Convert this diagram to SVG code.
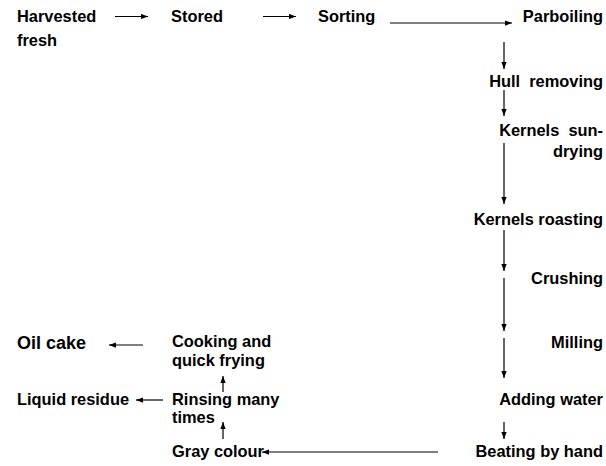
<svg xmlns="http://www.w3.org/2000/svg" width="606" height="466" viewBox="0 0 606 466">
<style>
text{font-family:"Liberation Sans",Arial,sans-serif;font-weight:bold;font-size:16.4px;fill:#000;white-space:pre}
.r{text-anchor:end}
.big{font-size:18px}
line{stroke:#000;stroke-width:1.2;fill:none}
</style>
<defs>
<marker id="ah" viewBox="0 0 8 6" refX="8" refY="3" markerWidth="7" markerHeight="5.5" markerUnits="userSpaceOnUse" orient="auto">
<path d="M0,0 L8,3 L0,6 z" fill="#000"/>
</marker>
</defs>
<rect width="606" height="466" fill="#fff"/>
<g id="harvested"><text x="17" y="22">Harvested</text><text x="17" y="46">fresh</text></g>
<g id="stored"><text x="171" y="22">Stored</text></g>
<g id="sorting"><text x="318" y="22">Sorting</text></g>
<g id="parboiling"><text class="r" x="603" y="22">Parboiling</text></g>
<g id="hull"><text class="r" x="603" y="87">Hull  removing</text></g>
<g id="sundrying"><text class="r" x="603" y="136">Kernels  sun-</text><text class="r" x="603" y="157">drying</text></g>
<g id="roasting"><text class="r" x="603" y="225">Kernels roasting</text></g>
<g id="crushing"><text class="r" x="603" y="284">Crushing</text></g>
<g id="milling"><text class="r" x="603" y="348">Milling</text></g>
<g id="adding"><text class="r" x="603" y="405">Adding water</text></g>
<g id="beating"><text class="r" x="603" y="457">Beating by hand</text></g>
<g id="gray"><text x="172" y="457">Gray colour</text></g>
<g id="rinsing"><text x="172" y="405">Rinsing many</text><text x="172" y="423">times</text></g>
<g id="cooking"><text x="172" y="347">Cooking and</text><text x="172" y="366">quick frying</text></g>
<g id="liquid"><text x="17" y="405">Liquid residue</text></g>
<g id="oilcake"><text class="big" x="17" y="349">Oil cake</text></g>
<g id="connectors">
<line x1="115" y1="16.5" x2="148" y2="16.5" marker-end="url(#ah)"/>
<line x1="263" y1="16.5" x2="296" y2="16.5" marker-end="url(#ah)"/>
<line x1="390" y1="23" x2="512" y2="23" marker-end="url(#ah)"/>
<line x1="504" y1="42" x2="504" y2="69" marker-end="url(#ah)"/>
<line x1="504" y1="90" x2="504" y2="116" marker-end="url(#ah)"/>
<line x1="504" y1="143" x2="504" y2="204" marker-end="url(#ah)"/>
<line x1="504" y1="230" x2="504" y2="271" marker-end="url(#ah)"/>
<line x1="504" y1="278" x2="504" y2="331" marker-end="url(#ah)"/>
<line x1="504" y1="338" x2="504" y2="378" marker-end="url(#ah)"/>
<line x1="504" y1="422" x2="504" y2="439" marker-end="url(#ah)"/>
<line x1="438" y1="452" x2="262" y2="452" marker-end="url(#ah)"/>
<line x1="223" y1="439" x2="223" y2="422" marker-end="url(#ah)"/>
<line x1="223" y1="392" x2="223" y2="376" marker-end="url(#ah)"/>
<line x1="163" y1="400" x2="136" y2="400" marker-end="url(#ah)"/>
<line x1="143" y1="345" x2="109" y2="345" marker-end="url(#ah)"/>
</g>
</svg>
